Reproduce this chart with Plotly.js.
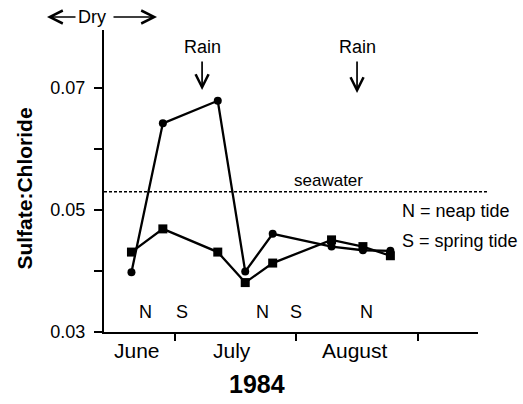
<!DOCTYPE html>
<html>
<head>
<meta charset="utf-8">
<script src="https://cdn.plot.ly/plotly-3.0.1.min.js"></script>
<style>html,body{margin:0;padding:0;background:#fff;}#chart{width:523px;height:404px;}</style>
</head>
<body>
<div id="chart"></div>
<script>
// ---- data ----
const sampleDates = ["1984-06-20","1984-06-28","1984-07-12","1984-07-19","1984-07-26","1984-08-10","1984-08-18","1984-08-25"];
const circleSeries = [0.0398,0.0642,0.0679,0.0399,0.0461,0.0440,0.0434,0.0433];
const squareSeries = [0.0431,0.0469,0.0431,0.0381,0.0413,0.0451,0.0440,0.0425];
const seawaterRatio = 0.053;
const tideLabels = ["N","S","N","S","N"];
const tideDates = ["1984-06-23 12:00","1984-07-03","1984-07-23 12:00","1984-08-01","1984-08-19"];
const monthNames = ["June","July","August"];
const monthLabelDates = ["1984-06-21 12:00","1984-07-15 12:00","1984-08-16"];
const monthBoundaries = ["1984-07-01","1984-08-01","1984-09-01"];
const rainDates = ["1984-07-08","1984-08-16 12:00"];
const yTickVals = [0.03,0.04,0.05,0.06,0.07];
const yTickText = ["0.03","","0.05","","0.07"];
const legendLines = ["N = neap tide","S = spring tide"];

const FONT = "Liberation Sans, Arial, Helvetica, sans-serif";

const traces = [
  {x: sampleDates, y: circleSeries, type: "scatter", mode: "lines+markers",
   line: {color: "#000", width: 2.3}, marker: {symbol: "circle", size: 8, color: "#000"},
   cliponaxis: false, showlegend: false},
  {x: sampleDates, y: squareSeries, type: "scatter", mode: "lines+markers",
   line: {color: "#000", width: 2.3}, marker: {symbol: "square", size: 9, color: "#000"},
   cliponaxis: false, showlegend: false}
];

const annotations = [];
tideLabels.forEach((t, i) => annotations.push({
  x: tideDates[i], xref: "x", y: 0.066, yref: "paper", text: t, showarrow: false,
  font: {family: FONT, size: 18, color: "#000"}, xanchor: "center", yanchor: "middle"
}));
monthNames.forEach((m, i) => annotations.push({
  x: monthLabelDates[i], xref: "x", y: -0.062, yref: "paper", text: m, showarrow: false,
  font: {family: FONT, size: 21, color: "#000"}, xanchor: "center", yanchor: "middle"
}));
rainDates.forEach((d, i) => {
  annotations.push({x: d, xref: "x", y: 0.943, yref: "paper", text: "Rain", showarrow: false,
    font: {family: FONT, size: 18, color: "#000"}, xanchor: "center", yanchor: "middle"});
  annotations.push({x: d, xref: "x", y: i === 0 ? 0.801 : 0.791, yref: "paper", text: "",
    showarrow: true, ax: 0, ay: i === 0 ? -30 : -33, arrowhead: 5, arrowsize: 1.5,
    arrowwidth: 1.7, arrowcolor: "#000"});
});
annotations.push({x: (25-104)/374, xref: "paper", y: 0.475, yref: "paper", text: "Sulfate:Chloride",
  textangle: -90, showarrow: false, font: {family: FONT, size: 21, color: "#000", weight: "bold"},
  xanchor: "center", yanchor: "middle"});
annotations.push({x: 0.409, xref: "paper", y: -0.172, yref: "paper", text: "1984", showarrow: false,
  font: {family: FONT, size: 25, color: "#000", weight: "bold"}, xanchor: "center", yanchor: "middle"});
annotations.push({x: (328-104)/374, xref: "paper", y: (332-180)/302, yref: "paper", text: "seawater",
  showarrow: false, font: {family: FONT, size: 17, color: "#000"}, xanchor: "center", yanchor: "middle"});
legendLines.forEach((t, i) => annotations.push({
  x: (400-104)/374, xref: "paper", y: (332 - (211 + 30*i))/302, yref: "paper", text: t,
  showarrow: false, font: {family: FONT, size: 18, color: "#000"}, xanchor: "left", yanchor: "middle"
}));
// Dry marker
annotations.push({x: (92-104)/374, xref: "paper", y: (332-17)/302, yref: "paper", text: "Dry",
  showarrow: false, font: {family: FONT, size: 18, color: "#000"}, xanchor: "center", yanchor: "middle"});
annotations.push({x: (47-104)/374, xref: "paper", y: (332-17)/302, yref: "paper", text: "",
  showarrow: true, ax: 30, ay: 0, arrowhead: 5, arrowsize: 1.5, arrowwidth: 1.7, arrowcolor: "#000"});
annotations.push({x: (157-104)/374, xref: "paper", y: (332-17)/302, yref: "paper", text: "",
  showarrow: true, ax: -45, ay: 0, arrowhead: 5, arrowsize: 1.5, arrowwidth: 1.7, arrowcolor: "#000"});

const layout = {
  width: 523, height: 404,
  margin: {l: 104, r: 45, t: 30, b: 72},
  paper_bgcolor: "#fff", plot_bgcolor: "#fff",
  font: {family: FONT, color: "#000"},
  showlegend: false,
  xaxis: {
    type: "date", range: ["1984-06-13", "1984-09-16 08:00"],
    tickmode: "array", tickvals: monthBoundaries, ticktext: ["", "", ""],
    ticks: "outside", ticklen: 7, tickwidth: 2, tickcolor: "#000",
    showline: true, linecolor: "#000", linewidth: 2, showgrid: false, zeroline: false
  },
  yaxis: {
    range: [0.03, 0.0795],
    tickmode: "array", tickvals: yTickVals, ticktext: yTickText,
    ticks: "outside", ticklen: 8, tickwidth: 2, tickcolor: "#000",
    ticklabelstandoff: 5,
    tickfont: {family: FONT, size: 18, color: "#000"},
    showline: true, linecolor: "#000", linewidth: 2, showgrid: false, zeroline: false
  },
  shapes: [{
    type: "line", xref: "paper", x0: 0, x1: 1.024, yref: "y", y0: seawaterRatio, y1: seawaterRatio,
    line: {color: "#000", width: 1.5, dash: "3px,2px"}
  }],
  annotations: annotations
};

Plotly.newPlot("chart", traces, layout, {displayModeBar: false, staticPlot: true});
</script>
</body>
</html>
